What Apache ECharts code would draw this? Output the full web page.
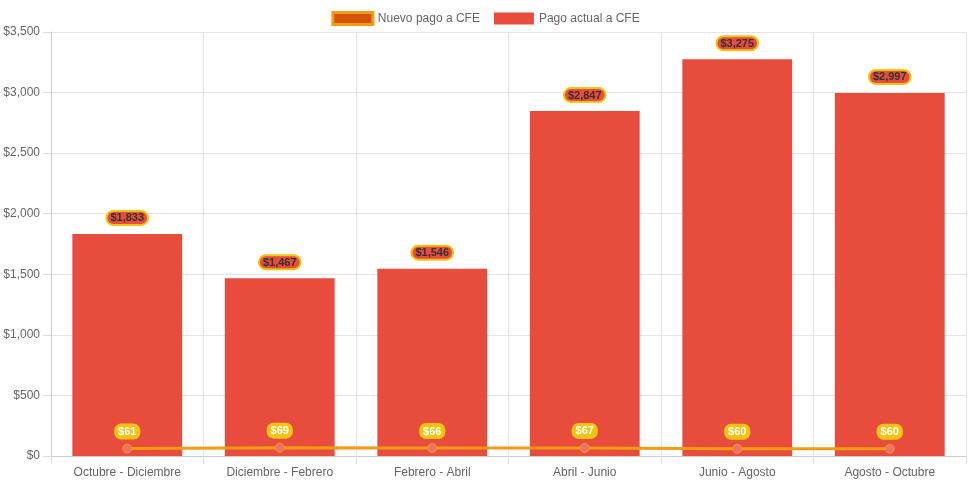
<!DOCTYPE html>
<html><head><meta charset="utf-8">
<script src="https://cdn.jsdelivr.net/npm/echarts@6/dist/echarts.min.js"></script>
<style>html,body{margin:0;padding:0;background:#fff}#c{width:971px;height:485px}</style>
</head><body><div id="c"></div>
<script>
const categories = ['Octubre - Diciembre','Diciembre - Febrero','Febrero - Abril','Abril - Junio','Junio - Agosto','Agosto - Octubre'];
const pagoActual = [1833, 1467, 1546, 2847, 3275, 2997];
const nuevoPago = [61, 69, 66, 67, 60, 60];
const yTicks = {min: 0, max: 3500, interval: 500};

const fmt = v => '$' + Number(v).toLocaleString('en-US');
const chart = echarts.init(document.getElementById('c'));
chart.setOption({
  animation: false,
  textStyle: {fontFamily: '"Liberation Sans", Arial, Helvetica, sans-serif'},
  legend: {
    top: 6, left: 'center', itemWidth: 40, itemHeight: 12, itemGap: 14,
    textStyle: {color: '#666', fontSize: 12},
    data: [
      {name: 'Nuevo pago a CFE', icon: 'rect', itemStyle: {color: '#d35400', borderColor: '#f39c12', borderWidth: 3}},
      {name: 'Pago actual a CFE', icon: 'rect', itemStyle: {color: '#e74c3c', borderWidth: 0}}
    ]
  },
  grid: {left: 51, right: 5, top: 32, bottom: 29, containLabel: false},
  xAxis: {
    type: 'category', data: categories, boundaryGap: true,
    axisLine: {lineStyle: {color: '#ccc'}},
    axisTick: {show: true, length: 8, lineStyle: {color: '#ddd'}, alignWithLabel: false},
    axisLabel: {color: '#666', fontSize: 12, margin: 11},
    splitLine: {show: true, lineStyle: {color: '#e5e5e5'}}
  },
  yAxis: {
    type: 'value', min: yTicks.min, max: yTicks.max, interval: yTicks.interval,
    axisLine: {show: true, lineStyle: {color: '#ccc'}},
    axisTick: {show: true, length: 8, lineStyle: {color: '#ddd'}},
    axisLabel: {color: '#666', fontSize: 12, margin: 11, formatter: fmt},
    splitLine: {show: true, lineStyle: {color: '#e5e5e5'}}
  },
  series: [
    {
      name: 'Pago actual a CFE', type: 'bar', data: pagoActual, barCategoryGap: '28%',
      itemStyle: {color: '#e74c3c'},
      label: {
        show: true, position: 'top', distance: 10, formatter: p => fmt(p.value),
        color: '#333', fontSize: 11, fontWeight: 'bold',
        backgroundColor: '#e74c3c', borderColor: '#f1c40f', borderWidth: 2,
        borderRadius: 7, padding: [1, 3, 0, 3]
      }
    },
    {
      name: 'Nuevo pago a CFE', type: 'line', data: nuevoPago,
      lineStyle: {color: '#f39c12', width: 3},
      itemStyle: {color: '#f07070', borderColor: '#f39c12', borderWidth: 1},
      symbol: 'circle', symbolSize: 9,
      label: {
        show: true, position: 'top', distance: 4, formatter: p => fmt(p.value),
        color: '#fff', fontSize: 11, fontWeight: 'bold',
        backgroundColor: '#f1c40f', borderRadius: 7, padding: [3, 4, 2, 4]
      },
      z: 3
    }
  ]
});
</script></body></html>
